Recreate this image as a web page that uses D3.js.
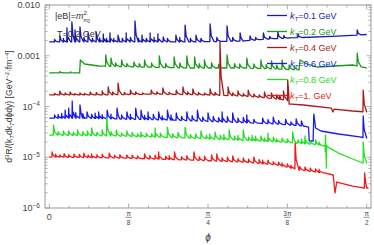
<!DOCTYPE html>
<html>
<head>
<meta charset="utf-8">
<script src="https://cdn.jsdelivr.net/npm/d3@7"></script>
<style>
body { margin: 0; background: #fff; }
text { font-family: "Liberation Sans", Arial, sans-serif; }
</style>
</head>
<body>
<script>
// kT values shown in the legend
const kTLabels = ["0.1", "0.2", "0.4", "0.6", "0.8", "1."];

// baseline of each curve: [phi in degrees, rate]
const base01 = [[0,1.87e-3],[20,1.87e-3],[40,1.87e-3],[55,1.95e-3],[62,2.14e-3],[68,2.24e-3],[80,2.4e-3],[90,2.62e-3]];
const base02 = [[0,4.6e-4],[8.6,4.6e-4],[8.8,8.24e-4],[10,6.88e-4],[14,6.28e-4],[26,6.0e-4],[40,5.74e-4],[55,5.74e-4],[65,5.48e-4],[70.8,5.24e-4],[71.1,8.24e-4],[73,6.88e-4],[76,6.0e-4],[86,6.57e-4],[90,5.74e-4]];
const base03 = [[0,1.69e-4],[15,1.69e-4],[30,1.76e-4],[45,1.69e-4],[55,1.61e-4],[62,1.47e-4],[67.5,1.34e-4],[68,1.12e-4],[72,1.07e-4],[80,9.3e-5],[80.4,7.8e-5],[80.8,8.9e-5],[86,8.15e-5],[90,7.8e-5]];
const base04 = [[0,5.9e-5],[10,5.9e-5],[20,5.67e-5],[35,5.4e-5],[50,4.95e-5],[65,4.52e-5],[72,4.13e-5],[73.5,3.94e-5],[73.7,2.09e-5],[74.8,2.09e-5],[75,7.1e-5],[75.5,3.77e-5],[77,3.29e-5],[82,2.87e-5],[88,2.51e-5],[90,2.39e-5]];
const base05 = [[0,2.74e-5],[20,2.62e-5],[40,2.39e-5],[60,2.09e-5],[70,1.91e-5],[77,1.74e-5],[78.2,1.67e-5],[78.6,6.1e-6],[79,1.59e-5],[82,1.21e-5],[86,9.24e-6],[89,7.7e-6],[90,7.7e-6]];
const base06 = [[0,1.01e-5],[20,9.66e-6],[40,8.8e-6],[55,8.05e-6],[65,7.0e-6],[71,5.6e-6],[78,4.9e-6],[80.5,4.47e-6],[81,1.98e-6],[81.5,3.25e-6],[86,2.71e-6],[89,2.48e-6],[90,2.48e-6]];

// resonance spikes: [phi in degrees, peak rate]
const spikes01 = [[1.5,2.1e-3],[3,2.45e-3],[4,2.2e-3],[5,3.52e-3],[6.4,4.63e-3],[7.3,3.22e-3],[8.7,3.69e-3],[9.8,2.3e-3],[11,2.81e-3],[12.2,2.2e-3],[13.3,2.94e-3],[14.3,2.25e-3],[15.3,2.68e-3],[16.2,2.2e-3],[17.2,2.81e-3],[18.3,2.2e-3],[19.5,2.56e-3],[20.7,2.2e-3],[21.8,2.81e-3],[23,2.3e-3],[24.3,4.84e-3],[25.3,2.2e-3],[26.3,2.56e-3],[27.5,2.2e-3],[28.6,2.81e-3],[29.7,2.3e-3],[30.8,2.68e-3],[32.3,2.34e-3],[33.5,2.2e-3],[35.9,2.56e-3],[37,2.3e-3],[38.5,4.03e-3],[40,2.2e-3],[41.6,2.56e-3],[43,2.2e-3],[45.6,4.22e-3],[47.5,2.3e-3],[50.4,3.86e-3],[52,2.3e-3],[54.1,2.81e-3],[56.9,2.45e-3],[58.5,2.3e-3],[60.7,2.81e-3],[62.5,2.4e-3],[64.8,2.94e-3],[66.5,2.5e-3],[70.5,2.68e-3],[87.3,3.22e-3]];
const spikes02 = [[3,4.9e-4],[6,4.8e-4],[16,1.04e-3],[17.5,9.0e-4],[18.8,7.2e-4],[20.5,8.24e-4],[22,7.0e-4],[24,7.53e-4],[25.5,7.0e-4],[27,8.24e-4],[29,7.2e-4],[31.2,9.9e-4],[33,7.0e-4],[35.4,9.45e-4],[37,7.2e-4],[39,9.9e-4],[41.2,9.45e-4],[42.5,7.0e-4],[44,8.24e-4],[46,7.3e-4],[48,6.8e-4],[50.4,1.04e-3],[52.5,7.0e-4],[54,6.9e-4],[56,9.0e-4],[58,6.9e-4],[60,8.24e-4],[61.5,6.7e-4],[63,7.88e-4],[64.5,6.5e-4],[66,8.24e-4],[68,6.6e-4],[69.5,6.3e-4],[87.3,1.13e-3]];
const spikes03 = [[1.5,1.82e-4],[3,2.02e-4],[4.5,1.85e-4],[5.9,1.93e-4],[7.2,1.8e-4],[8.7,1.85e-4],[10,1.82e-4],[11.6,1.93e-4],[13.3,1.9e-4],[15,2.02e-4],[16.7,2.42e-4],[18,1.95e-4],[19.5,2.9e-4],[21.3,1.9e-4],[23,2.11e-4],[24.5,1.95e-4],[26.5,1.85e-4],[28.9,2.11e-4],[30.5,1.95e-4],[32.2,2.32e-4],[34,1.9e-4],[36,2.11e-4],[37.9,2.42e-4],[39.2,1.95e-4],[40.7,2.21e-4],[42.3,1.9e-4],[44,1.85e-4],[45.6,2.21e-4],[47,1.9e-4],[48.4,1.87e-3],[50.7,2.42e-4],[52,1.85e-4],[53.5,2.02e-4],[55,1.8e-4],[56.4,2.11e-4],[58,1.75e-4],[59.5,1.7e-4],[61,1.93e-4],[63,1.85e-4],[64.5,1.7e-4],[65.3,1.65e-4],[66.4,2.02e-4],[67.6,3.33e-4],[89,2.11e-4]];
const spikes04 = [[1.5,6.8e-5],[2.5,7.0e-5],[3.5,7.3e-5],[4.5,8.5e-5],[5.5,9.3e-5],[6.5,1.28e-4],[7.5,7.6e-5],[8.7,1.07e-4],[9.5,7.2e-5],[10.7,7.8e-5],[12,7.0e-5],[13,7.4e-5],[14,7.8e-5],[15,6.9e-5],[16.4,8.5e-5],[17.5,7.1e-5],[19.2,9.3e-5],[20.5,6.8e-5],[22,7.8e-5],[23,7.0e-5],[24.5,9.3e-5],[26,8.5e-5],[27,6.7e-5],[28,7.8e-5],[29.5,7.0e-5],[31,7.8e-5],[32,6.5e-5],[33.5,8.5e-5],[34.5,6.8e-5],[36,7.45e-5],[37.5,6.4e-5],[39,7.8e-5],[40.5,6.6e-5],[42,8.5e-5],[43.5,6.2e-5],[45,7.45e-5],[46.5,6.4e-5],[48,6.0e-5],[49,7.8e-5],[50.5,6.3e-5],[52,7.45e-5],[53.5,5.9e-5],[55,6.1e-5],[56,6.8e-5],[58,5.6e-5],[60.5,5.9e-5],[62,5.5e-5],[63.5,6.2e-5],[65,5.3e-5],[67,5.6e-5],[68.5,5.0e-5],[70,5.67e-5],[71.5,5.2e-5],[89,6.5e-5]];
const spikes05 = [[1.2,4.32e-5],[2.5,3.2e-5],[4,3.29e-5],[5.5,3.3e-5],[6.8,3.1e-5],[8,3.44e-5],[9.5,3.2e-5],[10.8,3.3e-5],[12,3.77e-5],[13.5,3.1e-5],[15,3.44e-5],[16.3,5.9e-5],[17.5,3.2e-5],[19,3.44e-5],[20.5,3.0e-5],[22,3.29e-5],[23.5,3.1e-5],[25,2.9e-5],[26,3.15e-5],[27.5,3.0e-5],[29,2.9e-5],[30,3.77e-5],[31.5,3.0e-5],[33.5,3.94e-5],[35,2.9e-5],[36.5,3.1e-5],[38.5,3.94e-5],[40,2.8e-5],[41.5,2.9e-5],[43,3.29e-5],[44.5,2.7e-5],[45.5,2.9e-5],[47,3.15e-5],[48.5,2.7e-5],[49.5,2.8e-5],[51,3.44e-5],[52.5,2.6e-5],[53.5,2.7e-5],[55,3.44e-5],[56.5,2.5e-5],[57.5,2.74e-5],[58.5,2.6e-5],[60,2.62e-5],[61,2.4e-5],[62,3.0e-5],[63.5,2.5e-5],[64.5,2.3e-5],[66,2.39e-5],[67.5,2.3e-5],[69,3.15e-5],[70.5,2.2e-5],[71.5,2.3e-5],[72.5,2.62e-5],[74,2.1e-5],[75.5,2.2e-5],[76.5,2.0e-5],[78.3,2.74e-5],[89,2.0e-5]];
const spikes06 = [[0.8,1.27e-5],[1.8,1.15e-5],[3,1.11e-5],[4.2,1.18e-5],[5.5,1.12e-5],[7,1.16e-5],[8.5,1.14e-5],[9.8,1.2e-5],[11,1.1e-5],[12,1.16e-5],[13.5,1.12e-5],[15,1.15e-5],[17,1.21e-5],[18.5,1.1e-5],[20,1.13e-5],[22,1.11e-5],[23.5,1.1e-5],[25,1.06e-5],[27,1.16e-5],[28.5,1.08e-5],[30,1.1e-5],[31,1.27e-5],[33,1.05e-5],[34,1.08e-5],[35.5,1.27e-5],[37.5,1.03e-5],[39,1.07e-5],[41,1.27e-5],[42.5,1.02e-5],[44,1.05e-5],[46,1.11e-5],[47.5,1.16e-5],[49,9.8e-6],[50.5,1.0e-5],[52,1.06e-5],[53.5,9.4e-6],[55,9.7e-6],[56.5,9.2e-6],[58,1.01e-5],[59.5,9.0e-6],[60.5,8.8e-6],[62,8.8e-6],[63.5,8.2e-6],[65,8.0e-6],[66,7.7e-6],[67.5,7.4e-6],[68.5,7.0e-6],[69.7,1.91e-5],[71,6.6e-6],[72.5,6.4e-6],[74,6.1e-6],[75.5,5.9e-6],[76.5,5.8e-6],[89.4,4.9e-6]];

const baselines = [base01, base02, base03, base04, base05, base06];
const spikeSets = [spikes01, spikes02, spikes03, spikes04, spikes05, spikes06];
const colors = ["#1a1ab0", "#1a9a1a", "#a81a1a", "#1a1af0", "#22e022", "#f01a1a"];

const yTickVals = [1e-6, 1e-5, 1e-4, 1e-3, 1e-2];
const yTickText = ["10-6", "10-5", "10-4", "0.001", "0.010"];
const xTickDen = [null, "8", "4", "8", "2"];
const xTickNum = ["0", "\u03c0", "\u03c0", "3\u03c0", "\u03c0"];

const W = 374, H = 245;
const frame = { left: 45, right: 371, top: 5, bottom: 208 };

const svg = d3.select("body").append("svg")
    .attr("width", W)
    .attr("height", H);

const x = d3.scaleLinear().domain([-0.0213, 1.592]).range([frame.left, frame.right]);
const y = d3.scaleLog().domain([1e-6, 1e-2]).range([frame.bottom, frame.top]);
const rad = d => d * Math.PI / 180;

const axisColor = "#9a9a9a";
const labelColor = "#444";

// frame
svg.append("rect")
    .attr("x", frame.left).attr("y", frame.top)
    .attr("width", frame.right - frame.left)
    .attr("height", frame.bottom - frame.top)
    .attr("fill", "none")
    .attr("stroke", axisColor)
    .attr("stroke-width", 1);

// x ticks: major every pi/8, minor every pi/32
const ticks = svg.append("g").attr("stroke", axisColor).attr("stroke-width", 0.8);
for (let i = 0; i <= 16; i++) {
    const px = x(i * Math.PI / 32);
    const len = i % 4 === 0 ? 4.5 : 2.5;
    ticks.append("line").attr("x1", px).attr("x2", px).attr("y1", frame.bottom).attr("y2", frame.bottom - len);
    ticks.append("line").attr("x1", px).attr("x2", px).attr("y1", frame.top).attr("y2", frame.top + len);
}
// y ticks: decades + minors
yTickVals.forEach((v, i) => {
    for (let m = 1; m <= 9; m++) {
        if (i === yTickVals.length - 1 && m > 1) break;
        const py = y(v * m);
        const len = m === 1 ? 4.5 : 2.5;
        ticks.append("line").attr("y1", py).attr("y2", py).attr("x1", frame.left).attr("x2", frame.left + len);
        ticks.append("line").attr("y1", py).attr("y2", py).attr("x1", frame.right).attr("x2", frame.right - len);
    }
});

// y tick labels
yTickVals.forEach((v, i) => {
    const t = svg.append("text")
        .attr("x", frame.left - 5)
        .attr("y", y(v) + 3.2)
        .attr("text-anchor", "end")
        .attr("font-size", 9)
        .attr("fill", labelColor);
    const s = yTickText[i];
    if (s.startsWith("10")) {
        t.append("tspan").text("10");
        t.append("tspan").attr("font-size", 6.5).attr("dy", -3.5).text("\u2212" + s.slice(3));
    } else {
        t.text(s);
    }
});

// x tick labels, fractions of pi
xTickNum.forEach((num, i) => {
    const px = x(i * Math.PI / 8);
    if (xTickDen[i] === null) {
        svg.append("text").attr("x", px).attr("y", 220)
            .attr("text-anchor", "middle").attr("font-size", 9).attr("fill", labelColor).text(num);
        return;
    }
    svg.append("text").attr("x", px).attr("y", 215.5)
        .attr("text-anchor", "middle").attr("font-size", 6.5).attr("fill", labelColor).text(num);
    svg.append("line").attr("x1", px - 3).attr("x2", px + 3).attr("y1", 217.3).attr("y2", 217.3)
        .attr("stroke", labelColor).attr("stroke-width", 0.6);
    svg.append("text").attr("x", px).attr("y", 224.5)
        .attr("text-anchor", "middle").attr("font-size", 6.5).attr("fill", labelColor).text(xTickDen[i]);
});

// axis titles
svg.append("text")
    .attr("x", x(Math.PI / 4)).attr("y", 241)
    .attr("text-anchor", "middle")
    .attr("font-size", 10)
    .attr("font-style", "italic")
    .attr("fill", "#333")
    .text("\u03d5");

const yl = svg.append("text")
    .attr("transform", "translate(12," + ((frame.top + frame.bottom) / 2) + ") rotate(-90)")
    .attr("text-anchor", "middle")
    .attr("font-size", 8.6)
    .attr("fill", "#333");
yl.append("tspan").text("d");
yl.append("tspan").attr("font-size", 6).attr("dy", -3).text("3");
yl.append("tspan").attr("dy", 3).text("R/(k");
yl.append("tspan").attr("font-size", 6).attr("dy", 1.5).attr("font-style", "italic").text("T");
yl.append("tspan").attr("dy", -1.5).text("dk");
yl.append("tspan").attr("font-size", 6).attr("dy", 1.5).attr("font-style", "italic").text("T");
yl.append("tspan").attr("dy", -1.5).text("d\u03d5dy) [GeV");
yl.append("tspan").attr("font-size", 6).attr("dy", -3).text("\u22122");
yl.append("tspan").attr("dy", 3).text("\u00b7fm");
yl.append("tspan").attr("font-size", 6).attr("dy", -3).text("\u22124");
yl.append("tspan").attr("dy", 3).text("]");

// curves: baseline with spikes that rise sharply and relax back
const line = d3.line()
    .x(d => x(rad(d[0])))
    .y(d => y(d[1]));

const plot = svg.append("g");
baselines.forEach((base, i) => {
    const baseAt = d3.scaleLinear()
        .domain(base.map(d => d[0]))
        .range(base.map(d => Math.log10(d[1])));
    const pts = base.map(d => [d[0], d[1], 0]);
    spikeSets[i].forEach(s => {
        const b0 = baseAt(s[0]);
        const lp = Math.log10(s[1]);
        pts.push([s[0] - 0.06, Math.pow(10, b0), 1]);
        pts.push([s[0], s[1], 2]);
        pts.push([s[0] + 0.3, Math.pow(10, b0 + 0.35 * (lp - b0)), 3]);
        pts.push([s[0] + 1.1, Math.pow(10, baseAt(s[0] + 1.1)), 4]);
    });
    pts.sort((a, b) => a[0] - b[0] || a[2] - b[2]);
    plot.append("path")
        .attr("d", line(pts))
        .attr("fill", "none")
        .attr("stroke", colors[i])
        .attr("stroke-width", 1.3)
        .attr("stroke-linejoin", "round");
});

// annotations
const a1 = svg.append("text").attr("x", 55).attr("y", 19).attr("font-size", 9).attr("fill", "#333");
a1.append("tspan").text("|eB|=");
a1.append("tspan").attr("font-style", "italic").text("m");
a1.append("tspan").attr("font-size", 6).attr("dy", -4).text("2");
a1.append("tspan").attr("font-size", 6).attr("dx", -3.5).attr("dy", 6.5).attr("font-style", "italic").text("\u03c0");
a1.append("tspan").attr("font-size", 5).attr("dy", 1).text("0");
svg.append("text").attr("x", 57).attr("y", 37).attr("font-size", 9).attr("fill", "#333").text("T=0.2 GeV");

// legend
const legend = svg.append("g");
kTLabels.forEach((k, i) => {
    const ly = 15.5 + i * 16;
    legend.append("line")
        .attr("x1", 267).attr("x2", 287)
        .attr("y1", ly).attr("y2", ly)
        .attr("stroke", colors[i]).attr("stroke-width", 1.3);
    const t = legend.append("text")
        .attr("x", 290).attr("y", ly + 3.3)
        .attr("font-size", 9)
        .attr("fill", colors[i]);
    t.append("tspan").attr("font-style", "italic").text("k");
    t.append("tspan").attr("font-style", "italic").attr("font-size", 6).attr("dy", 2).text("T");
    t.append("tspan").attr("dy", -2).text("=" + k + " GeV");
});
</script>
</body>
</html>
